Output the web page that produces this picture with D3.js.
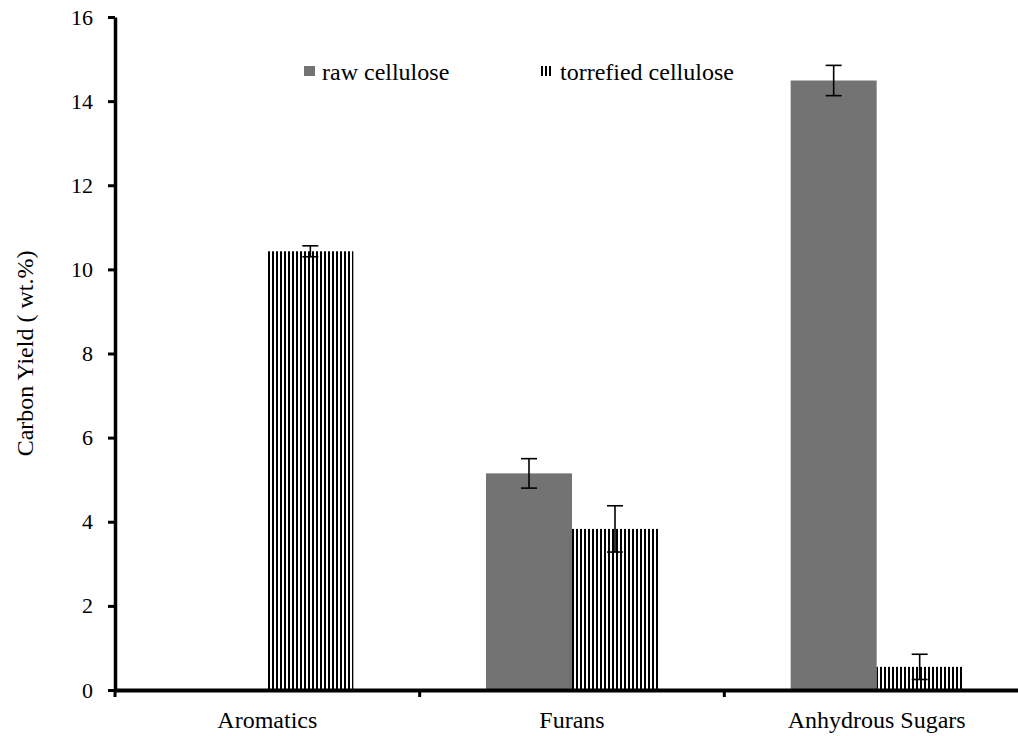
<!DOCTYPE html>
<html>
<head>
<meta charset="utf-8">
<script src="https://cdn.jsdelivr.net/npm/d3@7"></script>
<style>
	body { margin: 0; background: #fff; }
</style>
</head>
<body>
<svg></svg>
<script>
// values
const categories = ['Aromatics', 'Furans', 'Anhydrous Sugars'];
const seriesNames = ['raw cellulose', 'torrefied cellulose'];
const rawValues = [0, 5.15, 14.49];
const rawErrors = [0, 0.35, 0.36];
const torrValues = [10.43, 3.83, 0.55];
const torrErrors = [0.13, 0.55, 0.3];
const yTicks = [0, 2, 4, 6, 8, 10, 12, 14, 16];

const width = 1018;
const height = 736;
const x0 = 115, x1 = 1029;
const yTop = 17, yBottom = 690;
const barWidth = 86;
const capWidth = 16;
const serif = 'Liberation Serif';

const svg = d3.select('svg')
	.attr('width', width)
	.attr('height', height);

const defs = svg.append('defs');
const pat = defs.append('pattern')
	.attr('id', 'stripes')
	.attr('patternUnits', 'userSpaceOnUse')
	.attr('width', 4)
	.attr('height', 4);
pat.append('rect').attr('width', 4).attr('height', 4).attr('fill', '#fff');
pat.append('rect').attr('width', 2).attr('height', 4).attr('fill', '#000');

const xScale = d3.scaleBand()
	.domain(categories)
	.range([x0, x1]);

const yScale = d3.scaleLinear()
	.domain([0, 16])
	.range([yBottom, yTop]);

const rows = [];
categories.forEach((c, i) => {
	rows.push({ cat: c, series: 0, value: rawValues[i], err: rawErrors[i] });
	rows.push({ cat: c, series: 1, value: torrValues[i], err: torrErrors[i] });
});
const barX = d => xScale(d.cat) + xScale.bandwidth() / 2 + (d.series === 0 ? -barWidth : 0);

const g = svg.append('g');

g.selectAll('rect.bar').data(rows.filter(d => d.value > 0))
	.enter().append('rect')
		.attr('class', 'bar')
		.attr('x', barX)
		.attr('y', d => yScale(d.value))
		.attr('width', barWidth)
		.attr('height', d => yScale(0) - yScale(d.value))
		.attr('fill', d => d.series === 0 ? '#737373' : 'url(#stripes)');

// error bars
const eb = g.selectAll('g.err').data(rows.filter(d => d.err > 0))
	.enter().append('g')
		.attr('class', 'err')
		.attr('transform', d => `translate(${barX(d) + barWidth / 2},0)`)
		.attr('stroke', '#000')
		.attr('stroke-width', 1.6);
eb.append('line')
	.attr('y1', d => yScale(d.value + d.err))
	.attr('y2', d => yScale(d.value - d.err));
eb.append('line')
	.attr('x1', -capWidth / 2).attr('x2', capWidth / 2)
	.attr('y1', d => yScale(d.value + d.err))
	.attr('y2', d => yScale(d.value + d.err));
eb.append('line')
	.attr('x1', -capWidth / 2).attr('x2', capWidth / 2)
	.attr('y1', d => yScale(d.value - d.err))
	.attr('y2', d => yScale(d.value - d.err));

// y axis
const yAxis = d3.axisLeft(yScale)
	.tickValues(yTicks)
	.tickSize(7)
	.tickPadding(15)
	.tickSizeOuter(0);
const yAxisG = svg.append('g')
	.attr('transform', `translate(${x0},0)`)
	.call(yAxis)
	.attr('font-family', serif)
	.attr('font-size', 22);
yAxisG.select('.domain').attr('stroke-width', 3.5);
yAxisG.selectAll('.tick line').attr('stroke-width', 3);

// x axis
const xAxis = d3.axisBottom(xScale)
	.tickValues([])
	.tickSizeOuter(0);
const xAxisG = svg.append('g')
	.attr('transform', `translate(0,${yBottom})`)
	.call(xAxis)
	.attr('font-family', serif)
	.attr('font-size', 24);
xAxisG.select('.domain').attr('stroke-width', 4);
xAxisG.selectAll('line.sep').data(categories.map(c => xScale(c)))
	.enter().append('line')
		.attr('class', 'sep')
		.attr('x1', d => d).attr('x2', d => d)
		.attr('y1', 0).attr('y2', 7)
		.attr('stroke', '#000')
		.attr('stroke-width', 3);
xAxisG.selectAll('text.cat').data(categories)
	.enter().append('text')
		.attr('class', 'cat')
		.attr('x', d => xScale(d) + xScale.bandwidth() / 2)
		.attr('y', 38)
		.attr('text-anchor', 'middle')
		.attr('fill', '#000')
		.text(d => d);

// y axis title
svg.append('text')
	.attr('transform', `translate(33,${(yTop + yBottom) / 2}) rotate(-90)`)
	.attr('text-anchor', 'middle')
	.attr('font-family', serif)
	.attr('font-size', 24)
	.attr('fill', '#000')
	.text('Carbon Yield ( wt.%)');

// legend
const legendX = [304, 541];
const legend = svg.selectAll('g.legend').data(seriesNames)
	.enter().append('g')
		.attr('class', 'legend')
		.attr('transform', (d, i) => `translate(${legendX[i]},66)`);
legend.append('rect')
	.attr('width', (d, i) => i === 0 ? 11 : 10)
	.attr('height', 10)
	.attr('fill', (d, i) => i === 0 ? '#737373' : 'url(#stripes)');
legend.append('text')
	.attr('x', (d, i) => i === 0 ? 18 : 19)
	.attr('y', 14)
	.attr('font-family', serif)
	.attr('font-size', 24)
	.attr('fill', '#000')
	.text(d => d);
</script>
</body>
</html>
